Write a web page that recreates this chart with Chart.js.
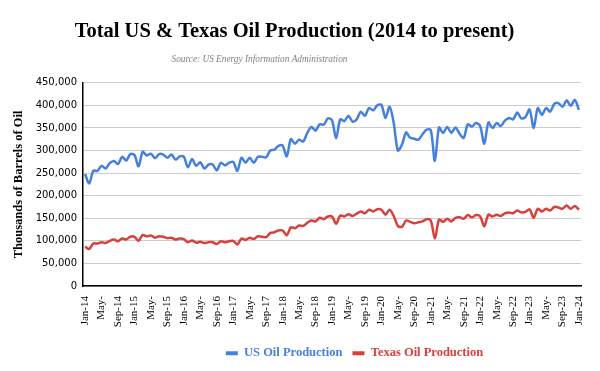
<!DOCTYPE html>
<html>
<head>
<meta charset="utf-8">
<script src="https://cdn.jsdelivr.net/npm/chart.js@4.4.1/dist/chart.umd.min.js"></script>
<style>
  html, body { margin: 0; padding: 0; background: #fff; }
  #wrap { width: 600px; height: 371px; }
</style>
</head>
<body>
<div id="wrap"><canvas id="oilChart" width="600" height="371"></canvas></div>
<script>
// monthly production, thousands of barrels, Jan-14 .. Jan-24
const monthNames = ['Jan','Feb','Mar','Apr','May','Jun','Jul','Aug','Sep','Oct','Nov','Dec'];
const years = ['14','15','16','17','18','19','20','21','22','23','24'];

const usProduction = [
  248, 227, 255, 255, 266, 260, 272, 277, 270, 286, 278, 292,
  290, 265, 297, 289, 293, 283, 292, 291, 284, 291, 280, 287,
  286, 263, 281, 266, 274, 260, 269, 269, 256, 273, 267, 273,
  275, 255, 284, 273, 284, 273, 286, 286, 285, 300, 302, 310,
  311, 287, 325, 315, 324, 320, 339, 352, 344, 358, 357, 371,
  367, 327, 369, 365, 377, 364, 369, 386, 377, 394, 389, 400,
  401, 372, 397, 361, 300, 313, 340, 328, 326, 324, 336, 346,
  345, 277, 351, 339, 352, 339, 351, 337, 328, 358, 353, 361,
  354, 315, 362, 350, 361, 354, 366, 372, 369, 384, 371, 374,
  391, 350, 394, 379, 394, 386, 403, 405, 397, 411, 399, 412,
  390
];

const texasProduction = [
  87, 82, 94, 94, 97, 95, 100, 103, 99, 105, 103, 109,
  109, 100, 113, 110, 112, 107, 110, 109, 106, 107, 103, 105,
  104, 97, 101, 96, 98, 95, 97, 97, 93, 99, 97, 99,
  100, 92, 105, 102, 107, 104, 110, 109, 108, 117, 119, 123,
  123, 112, 130, 128, 134, 133, 140, 145, 143, 151, 148, 154,
  154, 138, 156, 154, 159, 155, 160, 165, 161, 169, 165, 170,
  169, 158, 169, 155, 133, 131, 145, 142, 139, 141, 143, 148,
  145, 105, 147, 142, 149, 143, 151, 152, 149, 157, 152, 157,
  154, 132, 158, 154, 158, 155, 161, 163, 161, 167, 163, 164,
  170, 151, 171, 165, 171, 167, 175, 174, 171, 178, 171, 177,
  169
];

// labels shown on the x axis, one every 4 months
const tickLabels = [
  'Jan-14','May-','Sep-14','Jan-15','May-','Sep-15','Jan-16','May-','Sep-16',
  'Jan-17','May-','Sep-17','Jan-18','May-','Sep-18','Jan-19','May-','Sep-19',
  'Jan-20','May-','Sep-20','Jan-21','May-','Sep-21','Jan-22','May-','Sep-22',
  'Jan-23','May-','Sep-23','Jan-24'
];

const yTicks = [0, 50000, 100000, 150000, 200000, 250000, 300000, 350000, 400000, 450000];

const labels = [];
years.forEach(y => monthNames.forEach(m => labels.push(m + '-' + y)));
labels.length = usProduction.length;

const blue = '#4680DF';
const red = '#D8403C';
const serif = '"Liberation Serif", "Times New Roman", serif';
const sourceText = 'Source: US Energy Information Administration';

// in the original the legend sits right of centre and the source line left of it
const nudgeBoxes = {
  id: 'nudgeBoxes',
  afterLayout(chart) {
    chart.legend.left += 60;
    chart.legend.right += 60;
    const sub = chart.boxes.find(b => b.options && b.options.text === sourceText);
    if (sub) sub.left -= 70;
  }
};

const ctx = document.getElementById('oilChart').getContext('2d');

const oilChart = new Chart(ctx, {
  type: 'line',
  data: {
    labels: labels,
    datasets: [{
      label: 'US Oil Production',
      data: usProduction.map(v => v * 1000),
      borderColor: blue,
      backgroundColor: blue,
      borderWidth: 2.5,
      pointRadius: 0,
      tension: 0.3
    }, {
      label: 'Texas Oil Production',
      data: texasProduction.map(v => v * 1000),
      borderColor: red,
      backgroundColor: red,
      borderWidth: 2.5,
      pointRadius: 0,
      tension: 0.3
    }]
  },
  options: {
    responsive: false,
    animation: false,
    layout: { padding: { left: 8, right: 19, top: 0, bottom: 1.5 } },
    plugins: {
      title: {
        display: true,
        text: 'Total US & Texas Oil Production (2014 to present)',
        color: '#000',
        font: { family: serif, size: 20.5, weight: 'bold' },
        padding: { top: 19, bottom: 2 }
      },
      subtitle: {
        display: true,
        text: sourceText,
        color: '#808080',
        font: { family: serif, size: 9.3, style: 'italic' },
        padding: { top: 8.5, bottom: 17.5 }
      },
      legend: {
        position: 'bottom',
        labels: {
          boxWidth: 12,
          boxHeight: 4,
          padding: 10,
          font: { family: serif, size: 12.5, weight: 'bold' },
          generateLabels: (chart) => {
            const items = Chart.defaults.plugins.legend.labels.generateLabels(chart);
            items.forEach(it => { it.fontColor = it.strokeStyle; it.lineWidth = 0; });
            return items;
          }
        }
      },
      tooltip: { enabled: false }
    },
    scales: {
      x: {
        offset: true,
        grid: { display: false },
        border: { color: '#000', width: 1.5 },
        ticks: {
          autoSkip: false,
          maxRotation: 90,
          minRotation: 90,
          color: '#000',
          padding: 2,
          font: { family: serif, size: 11 },
          callback: (v, i) => (i % 4 === 0 ? tickLabels[i / 4] : null)
        },
        afterFit: (scale) => { scale.height = 51; }
      },
      y: {
        min: 0,
        max: 450000,
        afterBuildTicks: (scale) => { scale.ticks = yTicks.map(v => ({ value: v })); },
        grid: { color: '#cccccc', drawTicks: false },
        border: { color: '#000', width: 1.5 },
        ticks: {
          color: '#000',
          padding: 6,
          font: { family: '"DejaVu Sans", Verdana, sans-serif', size: 10 },
          callback: (v) => v.toLocaleString('en-US')
        },
        title: {
          display: true,
          text: 'Thousands of Barrels of Oil',
          color: '#000',
          font: { family: serif, size: 12.5, weight: 'bold' },
          padding: { top: 3, bottom: 0 }
        },
        afterFit: (scale) => { scale.width = 75; }
      }
    }
  },
  plugins: [nudgeBoxes]
});
</script>
</body>
</html>
